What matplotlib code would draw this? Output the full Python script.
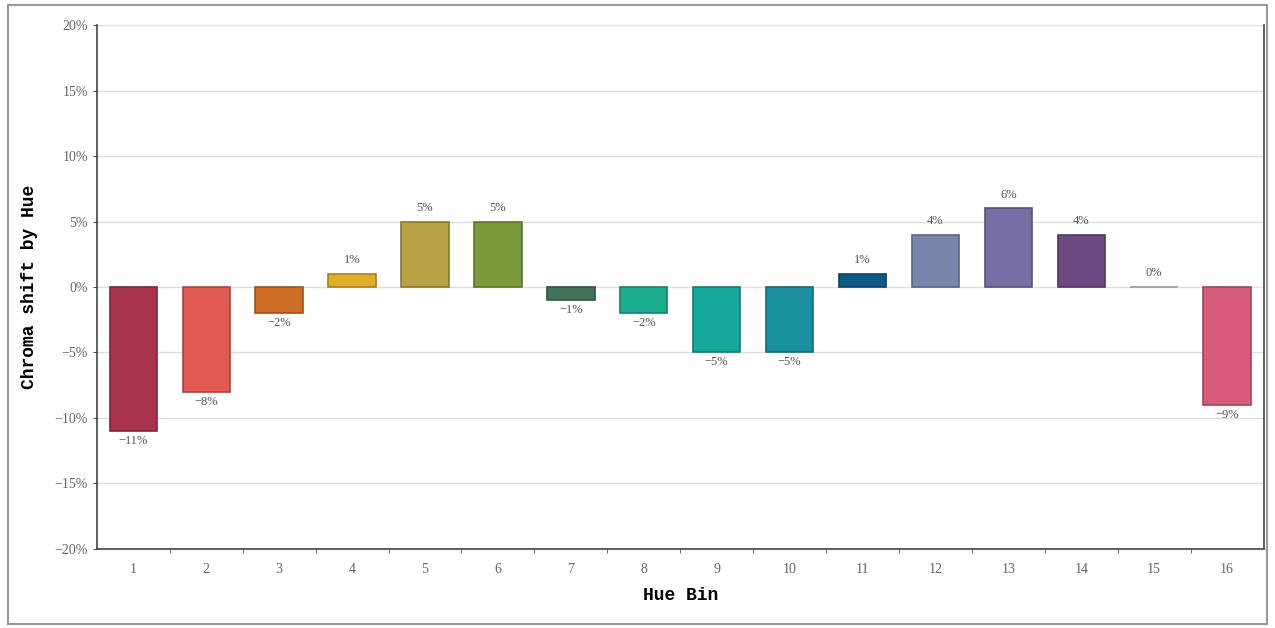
import matplotlib
matplotlib.use("Agg")
import matplotlib.pyplot as plt
from matplotlib.patches import Rectangle
from matplotlib.ticker import FixedLocator, PercentFormatter
import numpy as np

# 数据
bins = [str(i) for i in range(1, 17)]
shift = [-11, -8, -2, 1, 5, 5, -1, -2, -5, -5, 1, 4, 6, 4, 0, -9]
bar_colors = [
    "#a8334d", "#e25a52", "#cf6d27", "#e0ae2a",
    "#b9a146", "#7b9a3a", "#3f7257", "#1cad8e",
    "#14a89c", "#1a8fa0", "#0d5a86", "#7a86ac",
    "#776ea6", "#6b4a82", "#d0d0d0", "#d95b7c",
]


def darker(c, f=0.75):
    r, g, b = matplotlib.colors.to_rgb(c)
    return (r * f, g * f, b * f)


fig = plt.figure(figsize=(12.75, 6.28), dpi=100)
ax = fig.add_axes([0.076, 0.126, 0.915, 0.834])

x = np.arange(len(bins))
ax.bar(x, shift, width=0.65, color=bar_colors,
       edgecolor=[darker(c) for c in bar_colors], linewidth=1.2, zorder=2)

# 数值标签：正值在上，负值在下
for xi, v in zip(x, shift):
    txt = f"{v}%".replace("-", "\u2212")
    if v >= 0:
        ax.text(xi, v + 0.6, txt, ha="center", va="bottom",
                fontsize=9, color="#555555", family="Liberation Serif")
    else:
        ax.text(xi, v - 0.3, txt, ha="center", va="top",
                fontsize=9, color="#555555", family="Liberation Serif")

ax.set_xlim(-0.5, len(bins) - 0.5)
ax.set_ylim(-20, 20)
ax.set_yticks(np.arange(-20, 21, 5))
ax.yaxis.set_major_formatter(PercentFormatter(decimals=0))
ax.grid(axis="y", color="#dddddd", linewidth=1, zorder=0)

ax.set_xticks(x)
ax.set_xticklabels(bins)
ax.xaxis.set_minor_locator(FixedLocator(x[:-1] + 0.5))
ax.tick_params(axis="x", which="major", length=0, pad=10)
ax.tick_params(axis="x", which="minor", length=3, color="#555555")
ax.tick_params(axis="y", length=3, color="#555555")

for lab in ax.get_xticklabels() + ax.get_yticklabels():
    lab.set_family("Liberation Serif")
    lab.set_fontsize(10)
    lab.set_color("#666666")

ax.set_xlabel("Hue Bin", family="Liberation Mono", fontweight="bold",
              fontsize=13, labelpad=8)
ax.set_ylabel("Chroma shift by Hue", family="Liberation Mono",
              fontweight="bold", fontsize=13, labelpad=12)

ax.spines["top"].set_visible(False)
for s in ["left", "bottom", "right"]:
    ax.spines[s].set_color("#444444")
    ax.spines[s].set_linewidth(1.2)

# 图片外框
fig.patches.append(Rectangle((0.006, 0.006), 0.988, 0.986, transform=fig.transFigure,
                             fill=False, edgecolor="#999999", linewidth=1.5))

fig.savefig("out.png", dpi=100)
